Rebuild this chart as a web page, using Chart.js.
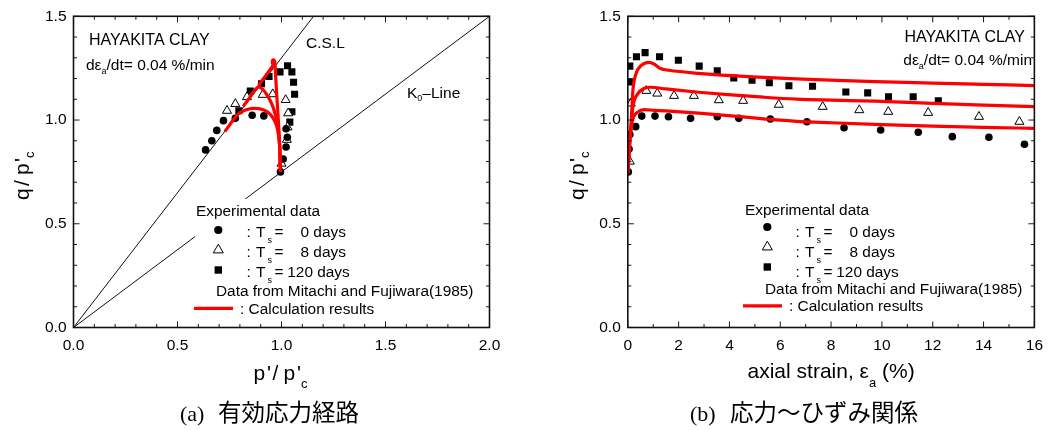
<!DOCTYPE html>
<html><head><meta charset="utf-8">
<script src="https://cdn.jsdelivr.net/npm/chart.js@4/dist/chart.umd.min.js"></script>
<style>
html,body{margin:0;padding:0;background:#fff;width:1052px;height:430px;overflow:hidden}
canvas{position:absolute;top:0}
#ca{left:0}#cb{left:526px}
</style></head><body>
<canvas id="ca" width="526" height="430"></canvas>
<canvas id="cb" width="526" height="430"></canvas>
<script>
// ===== (a) effective stress path : p'/p'c vs q/p'c =====
const calcP_0d   = [0.995,0.994,0.992,0.988,0.982,0.972,0.958,0.940,0.915,0.890,0.865,0.840,0.815,0.792,0.768,0.728];
const calcQ_0d   = [0.750,0.800,0.860,0.910,0.950,0.985,1.012,1.033,1.048,1.055,1.056,1.052,1.043,1.030,1.000,0.945];
const calcP_8d   = [0.995,0.994,0.992,0.988,0.982,0.972,0.960,0.945,0.928,0.910,0.890,0.870,0.841,0.816];
const calcQ_8d   = [0.750,0.800,0.860,0.920,0.970,1.020,1.060,1.095,1.125,1.148,1.160,1.142,1.100,1.066];
const calcP_120d = [0.995,0.993,0.990,0.986,0.981,0.976,0.972,0.970,0.968,0.963,0.957,0.956,0.960,0.940,0.914,0.889];
const calcQ_120d = [0.750,0.820,0.900,0.980,1.060,1.140,1.210,1.255,1.280,1.290,1.287,1.275,1.266,1.236,1.200,1.166];
const expP_0d    = [0.995,1.008,1.022,1.028,1.022,0.915,0.859,0.778,0.721,0.689,0.665,0.635];
const expQ_0d    = [0.750,0.812,0.870,0.917,0.958,1.020,1.023,1.008,0.997,0.950,0.900,0.856];
const expP_8d    = [1.000,1.026,1.029,1.032,1.020,0.958,0.910,0.834,0.778,0.738];
const expQ_8d    = [0.790,0.905,0.965,1.033,1.097,1.125,1.122,1.111,1.078,1.045];
const expP_120d  = [0.795,0.850,0.904,0.940,0.993,1.029,1.050,1.058,1.063,1.050,1.040];
const expQ_120d  = [1.045,1.140,1.175,1.210,1.232,1.262,1.232,1.182,1.124,1.040,0.990];
const cslP = [0, 1.154];
const cslQ = [0, 1.5];
const k0P  = [0, 2.0];
const k0Q  = [0, 1.5];

// ===== (b) stress-strain : axial strain (%) vs q/p'c =====
const calcE_0d   = [0,0.04,0.08,0.13,0.2,0.39,0.65,1.03,1.49,2.78,4.07,5.35,6.64,8,10,12,14,16];
const calcQe_0d  = [0.745,0.82,0.90,0.96,1.006,1.038,1.05,1.047,1.044,1.033,1.02,1.006,0.994,0.987,0.978,0.971,0.965,0.96];
const calcE_8d   = [0,0.04,0.08,0.13,0.2,0.39,0.65,0.9,1.49,2.78,4.07,5.35,6.64,8,9.73,12,14,16];
const calcQe_8d  = [0.745,0.82,0.90,0.97,1.062,1.126,1.153,1.158,1.15,1.134,1.121,1.11,1.101,1.096,1.091,1.08,1.072,1.065];
const calcE_120d = [0,0.04,0.08,0.13,0.2,0.32,0.52,0.84,1.03,1.29,1.62,2.78,4.07,5.35,6.64,8,9.73,12,14,16];
const calcQe_120d= [0.745,0.82,0.90,0.98,1.142,1.222,1.262,1.278,1.27,1.248,1.24,1.225,1.214,1.206,1.198,1.192,1.185,1.178,1.172,1.166];
const expE_0d    = [0.02,0.05,0.08,0.31,0.55,1.07,1.6,2.47,3.52,4.37,5.61,7.05,8.51,9.95,11.43,12.77,14.21,15.61];
const expQe_0d   = [0.75,0.86,0.93,0.968,1.019,1.019,1.016,1.008,1.016,1.008,1.005,0.992,0.963,0.952,0.941,0.92,0.917,0.883];
const expE_8d    = [0.08,0.12,0.73,1.16,1.82,2.6,3.58,4.54,5.94,7.67,9.11,10.25,11.82,13.82,15.41];
const expQe_8d   = [0.80,1.08,1.141,1.128,1.117,1.117,1.096,1.093,1.074,1.064,1.048,1.04,1.035,1.016,0.992];
const expE_120d  = [0.08,0.08,0.34,0.68,1.25,1.99,2.81,3.52,4.17,4.89,5.57,6.34,7.27,8.58,9.44,10.26,11.23,12.22];
const expQe_120d = [1.184,1.26,1.305,1.325,1.305,1.288,1.26,1.237,1.203,1.192,1.18,1.165,1.163,1.135,1.131,1.112,1.112,1.093];

// ===== tick labels =====
const qTickVals   = [0, 0.5, 1.0, 1.5];
const qTickLabels = ['0.0','0.5','1.0','1.5'];
const pTickVals   = [0, 0.5, 1.0, 1.5, 2.0];
const pTickLabels = ['0.0','0.5','1.0','1.5','2.0'];
const eTickVals   = [0,2,4,6,8,10,12,14,16];
const eTickLabels = ['0','2','4','6','8','10','12','14','16'];

const FONT = '"Liberation Sans", Arial, sans-serif';
const pts = (xs, ys) => xs.map((x, i) => ({x, y: ys[i]}));
const labelFor = (vals, labels) => v => {
  const i = vals.findIndex(t => Math.abs(t - v) < 1e-6);
  return i >= 0 ? labels[i] : '';
};

function run(ctx, x, y, parts) {
  let cx = x;
  for (const [t, size, dy, ox] of parts) {
    ctx.font = size + 'px ' + FONT;
    cx += (ox || 0);
    ctx.fillText(t, cx, y + (dy || 0));
    cx += ctx.measureText(t).width;
  }
  return cx;
}
function runW(ctx, parts) {
  let w = 0;
  for (const [t, size, dy, ox] of parts) { ctx.font = size + 'px ' + FONT; w += ctx.measureText(t).width + (ox || 0); }
  return w;
}
function glyphs(ctx, x, y, list) { // [text,size,offset,dy]
  for (const [t, size, off, dy] of list) {
    ctx.font = size + 'px ' + FONT;
    ctx.fillText(t, x + off, y + (dy || 0));
  }
}
function marker(ctx, kind, x, y) {
  ctx.save();
  ctx.fillStyle = '#000'; ctx.strokeStyle = '#000'; ctx.lineWidth = 1;
  if (kind === 'c') { ctx.beginPath(); ctx.arc(x, y, 4.1, 0, Math.PI * 2); ctx.fill(); }
  else if (kind === 's') { ctx.fillRect(x - 3.7, y - 3.7, 7.4, 7.4); }
  else {
    const r = 5.8; ctx.beginPath();
    ctx.moveTo(x, y - r); ctx.lineTo(x + r * 0.866, y + r / 2); ctx.lineTo(x - r * 0.866, y + r / 2); ctx.closePath();
    ctx.fillStyle = '#fff'; ctx.fill(); ctx.stroke();
  }
  ctx.restore();
}

const LF = 15.4;
function drawLegend(ctx, dx, yo, whiteBox) {
  ctx.save();
  if (whiteBox) { ctx.fillStyle = '#fff'; ctx.fillRect(195 + dx, 199, 285, 120); }
  ctx.fillStyle = '#000'; ctx.textBaseline = 'alphabetic'; ctx.textAlign = 'left';
  run(ctx, 196 + dx, 216 + yo[0], [['Experimental data', LF]]);
  const rows = [['c', '0 days', 300.5], ['t', '8 days', 300.5], ['s', '120 days', 287.3]];
  rows.forEach(([k, txt, nx], i) => {
    const by = 236.5 + 20 * i;
    marker(ctx, k, 218.3 + dx, 230 + 20 * i + yo[1]);
    run(ctx, 246.5 + dx, by, [[':', LF]]);
    run(ctx, 256 + dx, by, [['T', LF]]);
    run(ctx, 267.5 + dx, by + 6.5, [['s', 9]]);
    run(ctx, 274.5 + dx, by, [['=', LF]]);
    run(ctx, nx + dx, by, [[txt, LF]]);
  });
  run(ctx, 216 + dx, 296 + yo[2], [['Data from Mitachi and Fujiwara(1985)', LF]]);
  ctx.strokeStyle = '#ff0000'; ctx.lineWidth = 3.2;
  ctx.beginPath(); ctx.moveTo(194 + dx, 308.3 + yo[2]); ctx.lineTo(233 + dx, 308.3 + yo[2]); ctx.stroke();
  run(ctx, 240 + dx, 313.5 + yo[2], [[': Calculation results', LF]]);
  ctx.restore();
}

function drawFrame(chart) {
  const {ctx, chartArea: a, scales} = chart;
  const xs = scales.x, ys = scales.y;
  ctx.save();
  ctx.strokeStyle = '#1a1a1a'; ctx.lineWidth = 1;
  ctx.beginPath();
  xs.ticks.forEach(t => {
    const px = xs.getPixelForValue(t.value);
    const len = t.label ? 6 : 3.5;
    ctx.moveTo(px, a.bottom); ctx.lineTo(px, a.bottom - len);
    ctx.moveTo(px, a.top); ctx.lineTo(px, a.top + len);
  });
  ys.ticks.forEach(t => {
    const py = ys.getPixelForValue(t.value);
    const len = t.label ? 6 : 3.5;
    ctx.moveTo(a.left, py); ctx.lineTo(a.left + len, py);
    ctx.moveTo(a.right, py); ctx.lineTo(a.right - len, py);
  });
  ctx.stroke();
  ctx.lineWidth = 1.6; ctx.strokeStyle = '#111';
  ctx.strokeRect(a.left, a.top, a.right - a.left, a.bottom - a.top);
  ctx.restore();
}

function yTitle(ctx, bx, by) {
  ctx.save(); ctx.translate(bx, by); ctx.rotate(-Math.PI / 2);
  ctx.fillStyle = '#000'; ctx.textAlign = 'left'; ctx.textBaseline = 'alphabetic';
  glyphs(ctx, 0, 0, [['q', 21, -1], ['/', 21, 13], ['p', 21, 24], ["'", 21, 37], ['c', 13, 41, 5]]);
  ctx.restore();
}

const AF = 16;
const annotA = {
  id: 'annotA',
  afterDatasetsDraw(chart) {
    const ctx = chart.ctx;
    drawLegend(ctx, 0, [0, 0, 0], true);
    drawFrame(chart);
    ctx.save(); ctx.fillStyle = '#000'; ctx.textBaseline = 'alphabetic'; ctx.textAlign = 'left';
    run(ctx, 89, 45, [['HAYAKITA CLAY', AF]]);
    run(ctx, 86, 70, [['dε', 15.5], ['a', 9, 4], ['/dt= 0.04 %/min', 15.5]]);
    run(ctx, 306, 48, [['C.S.L', 15.5]]);
    run(ctx, 407, 98, [['K', 15.5], ['0', 9, 3], ['–Line', 15.5]]);
    // x title
    glyphs(ctx, 253.5, 380, [['p', 21, 0], ["'", 21, 13.5], ['/', 21, 19], ['p', 21, 30], ["'", 21, 43.5], ['c', 13, 47.5, 8]]);
    yTitle(ctx, 29.3, 199);
    // caption
    ctx.font = '22px "Liberation Serif", serif';
    ctx.fillText('(a)', 180, 421);
    ctx.font = '23.5px "Noto Sans CJK JP"';
    ctx.fillText('有効応力経路', 218, 421);
    ctx.restore();
  }
};
const annotB = {
  id: 'annotB',
  afterDatasetsDraw(chart) {
    const ctx = chart.ctx;
    drawLegend(ctx, 23, [-1, -3, -2.5], false);
    drawFrame(chart);
    ctx.save(); ctx.fillStyle = '#000'; ctx.textBaseline = 'alphabetic'; ctx.textAlign = 'left';
    const p1 = [['HAYAKITA CLAY', AF]];
    run(ctx, 499 - runW(ctx, p1), 41.7, p1);
    const p2 = [['dε', 15.5], ['a', 9, 4], ['/dt= 0.04 %/min', 15.5]];
    run(ctx, 506 - runW(ctx, p2), 65, p2);
    const a = chart.chartArea;
    const p3 = [['axial strain, ε', 21], ['a', 13, 8.5], [' (%)', 21]];
    run(ctx, (a.left + a.right) / 2 - runW(ctx, p3) / 2, 378, p3);
    yTitle(ctx, 57.6, 199);
    ctx.font = '22px "Liberation Serif", serif';
    ctx.fillText('(b)', 164, 421);
    ctx.font = '23.5px "Noto Sans CJK JP"';
    ctx.fillText('応力～ひずみ関係', 204, 421);
    ctx.restore();
  }
};

function scatterSet(label, data, style) {
  const base = {label, data, showLine: false, pointBorderWidth: 1, pointHoverRadius: 0, order: 2};
  if (style === 'c') return Object.assign(base, {pointStyle: 'circle', pointRadius: 3.8, pointBackgroundColor: '#000', pointBorderColor: '#000', pointBorderWidth: 0});
  if (style === 't') return Object.assign(base, {pointStyle: 'triangle', pointRadius: 5.2, pointBackgroundColor: '#fff', pointBorderColor: '#000'});
  return Object.assign(base, {pointStyle: 'rect', pointRadius: 5, pointBackgroundColor: '#000', pointBorderColor: '#000', pointBorderWidth: 0});
}
function lineSet(label, data, color, width, order, extra) {
  return Object.assign({label, data, showLine: true, borderColor: color, borderWidth: width, pointRadius: 0, pointHoverRadius: 0, fill: false, order}, extra || {});
}
function scalesFor(xMin, xMax, xStep, xVals, xLabels, yWidth) {
  const tickFont = {family: FONT, size: 15.5};
  return {
    x: {type: 'linear', min: xMin, max: xMax, border: {display: false},
        grid: {display: false, drawTicks: false},
        ticks: {stepSize: xStep, autoSkip: false, maxRotation: 0, minRotation: 0, padding: 9, color: '#000', font: tickFont, callback: labelFor(xVals, xLabels)},
        afterFit: s => { s.height = 102.5; }},
    y: {type: 'linear', min: 0, max: 1.5, border: {display: false},
        grid: {display: false, drawTicks: false},
        ticks: {stepSize: 0.1, autoSkip: false, padding: 7, color: '#000', font: tickFont, callback: labelFor(qTickVals, qTickLabels)},
        afterFit: s => { s.width = yWidth; }}
  };
}
const common = {
  responsive: false, animation: false, devicePixelRatio: 1, events: [],
  plugins: {legend: {display: false}, tooltip: {enabled: false}}
};

new Chart(document.getElementById('ca'), {
  type: 'scatter',
  data: {datasets: [
    lineSet('Calc 0 days', pts(calcP_0d, calcQ_0d), '#ff0000', 3.2, 0, {tension: 0.3}),
    lineSet('Calc 8 days', pts(calcP_8d, calcQ_8d), '#ff0000', 3.2, 0, {tension: 0.3}),
    lineSet('Calc 120 days', pts(calcP_120d, calcQ_120d), '#ff0000', 3.2, 0, {tension: 0.3}),
    scatterSet('Ts = 0 days', pts(expP_0d, expQ_0d), 'c'),
    scatterSet('Ts = 8 days', pts(expP_8d, expQ_8d), 't'),
    scatterSet('Ts = 120 days', pts(expP_120d, expQ_120d), 's'),
    lineSet('C.S.L', pts(cslP, cslQ), '#111', 1, 3),
    lineSet('K0-Line', pts(k0P, k0Q), '#111', 1, 3)
  ]},
  options: Object.assign({}, common, {
    layout: {padding: {left: 0, top: 16, right: 36.5, bottom: 0}},
    scales: scalesFor(0, 2, 0.1, pTickVals, pTickLabels, 73.5)
  }),
  plugins: [annotA]
});

new Chart(document.getElementById('cb'), {
  type: 'scatter',
  data: {datasets: [
    lineSet('Calc 0 days', pts(calcE_0d, calcQe_0d), '#ff0000', 3.2, 0, {cubicInterpolationMode: 'monotone'}),
    lineSet('Calc 8 days', pts(calcE_8d, calcQe_8d), '#ff0000', 3.2, 0, {cubicInterpolationMode: 'monotone'}),
    lineSet('Calc 120 days', pts(calcE_120d, calcQe_120d), '#ff0000', 3.2, 0, {cubicInterpolationMode: 'monotone'}),
    scatterSet('Ts = 0 days', pts(expE_0d, expQe_0d), 'c'),
    scatterSet('Ts = 8 days', pts(expE_8d, expQe_8d), 't'),
    scatterSet('Ts = 120 days', pts(expE_120d, expQe_120d), 's')
  ]},
  options: Object.assign({}, common, {
    layout: {padding: {left: 0, top: 16, right: 9.7, bottom: 0}},
    scales: scalesFor(0, 16, 1, eTickVals, eTickLabels, 101.8)
  }),
  plugins: [annotB]
});
</script>
</body></html>
